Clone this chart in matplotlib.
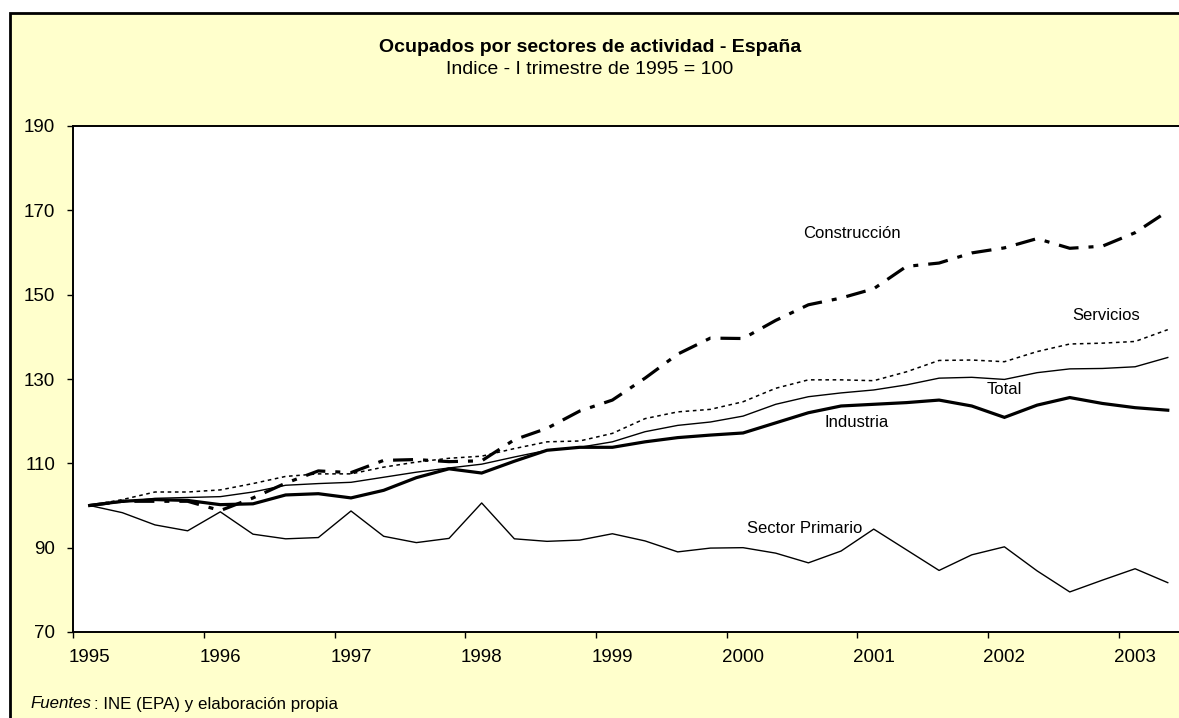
import matplotlib
matplotlib.use("Agg")
import matplotlib.pyplot as plt
from matplotlib.patches import Rectangle

plt.rcParams['font.family'] = ['Liberation Sans', 'DejaVu Sans']
plt.rcParams['lines.scale_dashes'] = False

# trimestres desde I-1995 hasta II-2003
years = ['1995', '1996', '1997', '1998', '1999', '2000', '2001', '2002', '2003']

total = [100, 100.8, 101.7, 101.9, 102.1, 103.2, 104.8, 105.2, 105.5, 106.7,
         107.9, 108.9, 109.8, 111.5, 113.1, 113.8, 115.1, 117.5, 119.0, 119.8,
         121.2, 124.0, 125.8, 126.7, 127.4, 128.6, 130.2, 130.4, 129.9, 131.5,
         132.4, 132.5, 132.9, 135.1]
industria = [100, 101.0, 101.4, 101.2, 100.2, 100.4, 102.5, 102.8, 101.8, 103.6,
             106.6, 108.7, 107.7, 110.5, 113.1, 113.8, 113.8, 115.1, 116.1, 116.7,
             117.2, 119.6, 122.0, 123.6, 124.0, 124.4, 125.0, 123.6, 120.9, 123.8,
             125.6, 124.2, 123.2, 122.6]
servicios = [100, 101.4, 103.2, 103.2, 103.7, 105.2, 106.9, 107.5, 107.5, 109.1,
             110.3, 111.2, 111.7, 113.5, 115.1, 115.3, 117.1, 120.6, 122.2, 122.8,
             124.6, 127.8, 129.8, 129.8, 129.6, 131.7, 134.4, 134.5, 134.1, 136.5,
             138.3, 138.5, 138.9, 141.7]
construccion = [100, 101.0, 101.0, 101.0, 98.8, 101.8, 105.3, 108.2, 107.8, 110.7,
                110.9, 110.4, 110.6, 115.6, 118.3, 122.4, 125.0, 130.2, 135.9, 139.7,
                139.6, 143.9, 147.6, 149.2, 151.4, 156.7, 157.5, 159.9, 161.1, 163.3,
                161.0, 161.5, 164.7, 169.8]
primario = [100, 98.3, 95.4, 94.0, 98.5, 93.2, 92.1, 92.4, 98.7, 92.7,
            91.2, 92.2, 100.6, 92.1, 91.5, 91.8, 93.3, 91.6, 89.0, 89.9,
            90.0, 88.7, 86.4, 89.2, 94.4, 89.5, 84.6, 88.3, 90.2, 84.5,
            79.5, 82.3, 85.0, 81.7]

x = list(range(len(total)))

fig = plt.figure(figsize=(11.79, 7.18), dpi=100, facecolor='white')

# marco amarillo del grafico
fondo = Rectangle((10 / 1179, -0.05), 1.2, (718 - 13) / 718 + 0.05,
                  transform=fig.transFigure, facecolor='#FFFFCC',
                  edgecolor='black', linewidth=2, zorder=-10)
fig.patches.append(fondo)

ax = fig.add_axes([73.3 / 1179, 86 / 718, 1110.8 / 1179, 506 / 718])
ax.set_facecolor('white')

ax.plot(x, primario, color='black', lw=1.0)
ax.plot(x, total, color='black', lw=1.0)
ax.plot(x, servicios, color='black', lw=1.1, linestyle=(0, (2.6, 2.6)))
ax.plot(x, industria, color='black', lw=2.3, solid_joinstyle='miter')
ax.plot(x, construccion, color='black', lw=2.3,
        linestyle=(0, (14.4, 7.2, 3.6, 7.2)), dash_capstyle='butt')

ax.set_xlim(-0.5, len(x) - 0.5)
ax.set_ylim(70, 190)
ax.set_yticks(range(70, 191, 20))

# marcas entre categorias, etiquetas en el primer trimestre de cada año
ax.set_xticks([k - 0.5 for k in range(0, len(x), 4)])
ax.set_xticklabels([])
ax.set_xticks(list(range(0, len(x), 4)), minor=True)
ax.set_xticklabels(years, minor=True)
ax.tick_params(axis='x', which='major', length=4, width=1, direction='out')
ax.tick_params(axis='x', which='minor', length=0, pad=12, labelsize=13.5)
ax.tick_params(axis='y', length=4, width=1, direction='out', pad=9, labelsize=13.5)

for s in ['left', 'bottom', 'top']:
    ax.spines[s].set_linewidth(1.4)
ax.spines['right'].set_visible(False)

etiquetas = [('Construcción', 21.84, 164.5), ('Servicios', 30.07, 145.0),
             ('Total', 27.47, 127.6), ('Industria', 22.48, 119.8),
             ('Sector Primario', 20.11, 94.5)]
for txt, tx, ty in etiquetas:
    ax.text(tx, ty, txt, ha='left', va='center', fontsize=12)

fig.text(590 / 1179, 1 - 48 / 718, 'Ocupados por sectores de actividad - España',
         ha='center', va='center', fontsize=14, fontweight='bold')
fig.text(590 / 1179, 1 - 69 / 718, 'Indice - I trimestre de 1995 = 100',
         ha='center', va='center', fontsize=14)

t1 = fig.text(30 / 1179, 1 - 704 / 718, 'Fuentes', ha='left', va='center',
              fontsize=12.2, style='italic')
fig.add_artist(plt.Annotation(': INE (EPA) y elaboración propia', xy=(1, 0.5),
                              xycoords=t1, xytext=(2.5, 0),
                              textcoords='offset points', ha='left', va='center',
                              fontsize=12.2))

fig.savefig('out.png', dpi=100, facecolor=fig.get_facecolor())
